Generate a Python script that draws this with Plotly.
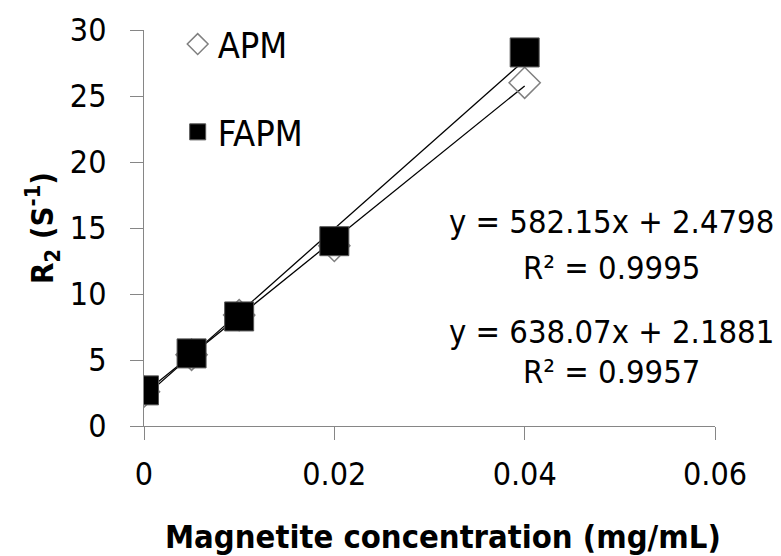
import plotly.graph_objects as go

# Data
conc = [0, 0.005, 0.01, 0.02, 0.04]
apm = [2.6, 5.4, 8.4, 13.65, 26.0]
fapm = [2.7, 5.5, 8.3, 14.0, 28.3]
apm_fit = (582.15, 2.4798)   # slope, intercept
fapm_fit = (638.07, 2.1881)
eq_labels = ["y = 582.15x + 2.4798", "R² = 0.9995", "y = 638.07x + 2.1881", "R² = 0.9957"]
x_ticks = [0, 0.02, 0.04, 0.06]
x_tick_text = ["0", "0.02", "0.04", "0.06"]
y_ticks = [0, 5, 10, 15, 20, 25, 30]

FONT = "DejaVu Sans Condensed, DejaVu Sans, sans-serif"
AX = "#868686"

fit_x = [min(conc), max(conc)]
fig = go.Figure()
for (m, b) in (apm_fit, fapm_fit):
    fig.add_trace(go.Scatter(x=fit_x, y=[m * v + b for v in fit_x], mode="lines",
                             line=dict(color="black", width=1.3), showlegend=False,
                             hoverinfo="skip"))
fig.add_trace(go.Scatter(x=conc, y=apm, mode="markers", name="APM", legendgroup="a",
                         marker=dict(symbol="diamond-open", size=24, color="#808080",
                                     line=dict(width=1.5, color="#808080"))))
fig.add_trace(go.Scatter(x=conc, y=fapm, mode="markers", name="FAPM", legendgroup="b",
                         marker=dict(symbol="square", size=29, color="black",
                                     line=dict(width=1, color="#555555"))))

ys = [0.515, 0.399, 0.237, 0.136]
for t, yy in zip(eq_labels, ys):
    fig.add_annotation(text=t, xref="paper", yref="paper", x=0.818, y=yy,
                       showarrow=False, xanchor="center", yanchor="middle",
                       font=dict(size=32.5, color="black", family=FONT))

fig.add_annotation(text="<b>Magnetite concentration (mg/mL)</b>", xref="paper", yref="paper",
                   x=(443 - 144) / 571, y=(426 - 537) / 396, showarrow=False,
                   xanchor="center", yanchor="middle",
                   font=dict(size=32.5, color="black", family=FONT))

fig.update_layout(
    width=781, height=556,
    margin=dict(l=136, r=74, t=22, b=138, autoexpand=False),
    paper_bgcolor="white", plot_bgcolor="white",
    font=dict(family=FONT, size=32, color="black"),
    showlegend=True,
    legend=dict(x=0.059, y=1.040, xanchor="left", yanchor="top",
                bgcolor="rgba(0,0,0,0)", tracegroupgap=38,
                font=dict(size=36, family=FONT), itemwidth=30),
    xaxis=dict(range=[0, 0.06], tickvals=x_ticks, ticktext=x_tick_text,
               showgrid=False, zeroline=False, showline=True, linecolor=AX, linewidth=1.3,
               ticks="outside", ticklen=13, tickcolor=AX, tickwidth=1.3,
               ticklabelstandoff=6, tickfont=dict(size=32, family=FONT)),
    yaxis=dict(range=[0, 30], tickvals=y_ticks,
               showgrid=False, zeroline=False, showline=True, linecolor=AX, linewidth=1.3,
               ticks="outside", ticklen=13, tickcolor=AX, tickwidth=1.3,
               ticklabelstandoff=17, tickfont=dict(size=32, family=FONT),
               title=dict(text="<b>R<sub>2</sub> (S<sup>-1</sup>)</b>", standoff=6,
                          font=dict(size=31, family=FONT))),
)
fig.write_html("out.html")
